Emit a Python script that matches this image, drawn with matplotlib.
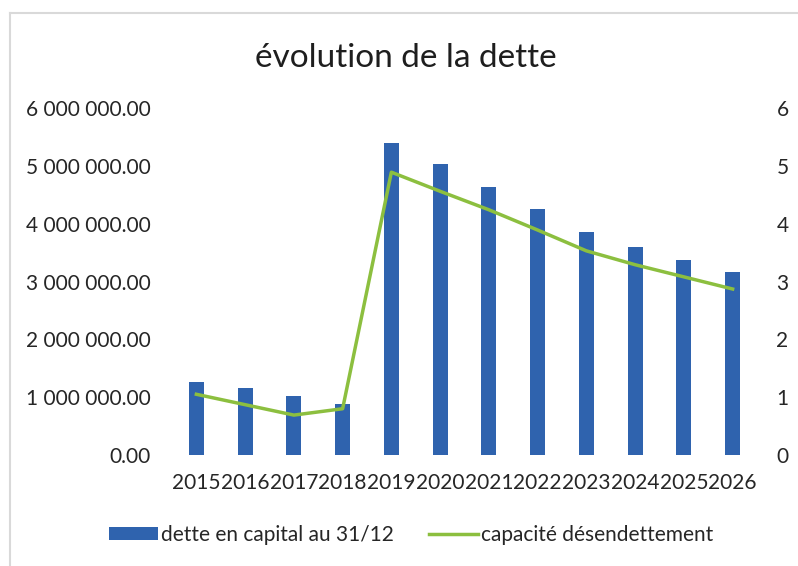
import matplotlib
matplotlib.use("Agg")
import matplotlib.pyplot as plt
from matplotlib.lines import Line2D
from matplotlib.patches import Patch
import numpy as np

years = ["2015", "2016", "2017", "2018", "2019", "2020", "2021", "2022", "2023", "2024", "2025", "2026"]
dette = [1270000, 1150000, 1020000, 880000, 5400000, 5030000, 4640000, 4260000, 3860000, 3600000, 3370000, 3160000]
capacite = [1.05, 0.87, 0.69, 0.80, 4.89, 4.56, 4.24, 3.89, 3.53, 3.29, 3.08, 2.87]
left_ticks = [0, 1000000, 2000000, 3000000, 4000000, 5000000, 6000000]
right_ticks = [0, 1, 2, 3, 4, 5, 6]

W, H = 798, 566
plt.rcParams['font.family'] = ['Lato', 'DejaVu Sans']
txt = '#262626'
fig = plt.figure(figsize=(W / 100, H / 100), dpi=100)

ax = fig.add_axes([172 / W, (H - 455) / H, (757 - 172) / W, (455 - 108) / H])
x = np.arange(len(years))
ax.bar(x, dette, width=0.31, color='#2f63ae', zorder=2)
ax.set_xlim(-0.5, len(years) - 0.5)
ax.set_ylim(0, 6000000)
ax.set_yticks(left_ticks)
ax.set_yticklabels([f"{v:,.2f}".replace(",", " ") for v in left_ticks])
ax.set_xticks(x)
ax.set_xticklabels(years)
ax.tick_params(axis='y', length=0, pad=15.5, labelsize=15, labelcolor=txt)
ax.tick_params(axis='x', length=0, pad=13, labelsize=15, labelcolor=txt)
for s in ax.spines.values():
    s.set_visible(False)

ax2 = ax.twinx()
ax2.plot(x, capacite, color='#8cbf3f', lw=2.5, zorder=3)
ax2.set_ylim(0, 6)
ax2.set_yticks(right_ticks)
ax2.set_yticklabels([str(v) for v in right_ticks])
ax2.tick_params(axis='y', length=0, pad=14, labelsize=15, labelcolor=txt)
for s in ax2.spines.values():
    s.set_visible(False)

fig.text(406 / W, 1 - 58 / H, "évolution de la dette", ha='center', va='center',
         fontsize=24, color='#1e1e1e')

handles = [Patch(facecolor='#2f63ae', edgecolor='none'),
           Line2D([0], [0], color='#8cbf3f', lw=2.5)]
labels = ["dette en capital au 31/12", "capacité désendettement"]
fig.legend(handles, labels, loc='center', bbox_to_anchor=(411 / W, 1 - 535 / H),
           ncol=2, frameon=False, fontsize=15, handlelength=2.35, handleheight=0.6,
           handletextpad=0.15, columnspacing=1.7, labelcolor=txt)

fig.add_artist(Line2D([10 / W, 10 / W], [0, 1 - 13 / H], color='#d9d9d9', lw=1.5))
fig.add_artist(Line2D([10 / W, 1], [1 - 13 / H, 1 - 13 / H], color='#d9d9d9', lw=1.5))

fig.savefig("out.png", dpi=100)
